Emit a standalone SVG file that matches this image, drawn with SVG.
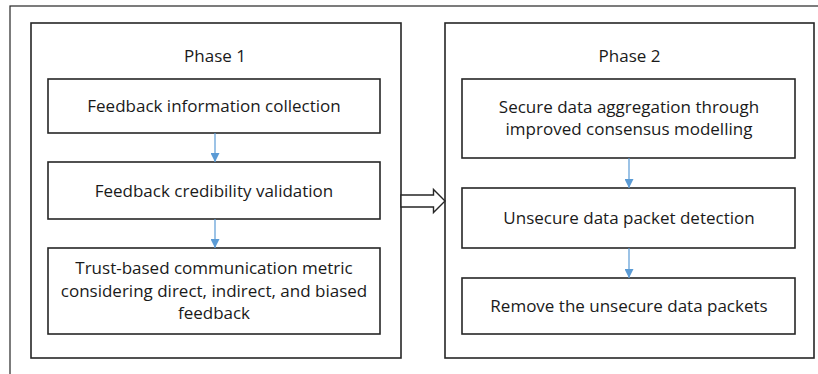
<svg xmlns="http://www.w3.org/2000/svg" width="818" height="374" viewBox="0 0 818 374">
  <defs>
    <style>
      .frame { fill: none; stroke: #262626; stroke-width: 1.2; }
      .box { fill: #ffffff; stroke: #262626; stroke-width: 1.6; }
      .txt { font-family: "Open Sans", "Liberation Sans", sans-serif; font-size: 17px; fill: #1a1a1a; text-anchor: middle; }
      .conn { stroke: #5B9BD5; stroke-width: 1.2; fill: none; }
      .head { fill: #5B9BD5; }
    </style>
    <marker id="arr" markerWidth="9" markerHeight="9" refX="9" refY="4.5" orient="auto" markerUnits="userSpaceOnUse">
      <path d="M0,0 L9,4.5 L0,9 Z" class="head"/>
    </marker>
  </defs>
  <rect width="818" height="374" fill="#ffffff"/>
  <rect class="frame" x="10" y="6" width="830" height="400"/>

  <g id="phase1">
    <rect class="box" x="31" y="23" width="370" height="335"/>
    <text class="txt" x="215" y="62">Phase 1</text>
  </g>
  <g id="p1-collect">
    <rect class="box" x="48" y="79" width="332" height="54"/>
    <text class="txt" x="214" y="112">Feedback information collection</text>
  </g>
  <g id="p1-validate">
    <rect class="box" x="48" y="162" width="332" height="57"/>
    <text class="txt" x="214" y="197">Feedback credibility validation</text>
  </g>
  <g id="p1-trust">
    <rect class="box" x="48" y="248" width="332" height="86"/>
    <text class="txt" x="214" y="274">Trust-based communication metric</text>
    <text class="txt" x="214" y="296.5">considering direct, indirect, and biased</text>
    <text class="txt" x="214" y="319">feedback</text>
  </g>

  <g id="phase2">
    <rect class="box" x="445" y="23" width="369" height="335"/>
    <text class="txt" x="629.5" y="62">Phase 2</text>
  </g>
  <g id="p2-aggregate">
    <rect class="box" x="462" y="79" width="333" height="79"/>
    <text class="txt" x="629" y="112.5">Secure data aggregation through</text>
    <text class="txt" x="629" y="135">improved consensus modelling</text>
  </g>
  <g id="p2-detect">
    <rect class="box" x="462" y="188" width="333" height="60"/>
    <text class="txt" x="629" y="224">Unsecure data packet detection</text>
  </g>
  <g id="p2-remove">
    <rect class="box" x="462" y="278" width="333" height="56"/>
    <text class="txt" x="629" y="311.5">Remove the unsecure data packets</text>
  </g>

  <g id="connectors">
    <line class="conn" x1="215" y1="133" x2="215" y2="162" marker-end="url(#arr)"/>
    <line class="conn" x1="215" y1="219" x2="215" y2="248" marker-end="url(#arr)"/>
    <line class="conn" x1="629" y1="158" x2="629" y2="188" marker-end="url(#arr)"/>
    <line class="conn" x1="629" y1="248" x2="629" y2="278" marker-end="url(#arr)"/>
    <polygon points="401,195 433.5,195 433.5,189.5 445,201 433.5,212.5 433.5,207 401,207" fill="#ffffff" stroke="#262626" stroke-width="1.4" stroke-linejoin="miter"/>
  </g>
</svg>
